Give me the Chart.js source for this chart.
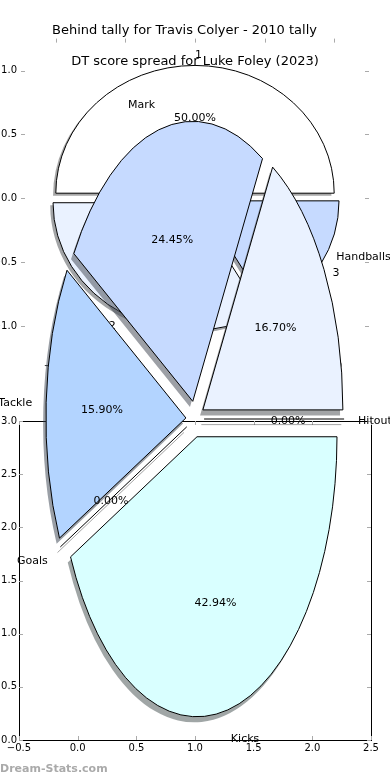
<!DOCTYPE html>
<html>
<head>
<meta charset="utf-8">
<script src="https://cdn.jsdelivr.net/npm/chart.js@4.4.1/dist/chart.umd.min.js"></script>
<style>
  html, body { margin: 0; padding: 0; background: #fff; }
  #wrap { position: relative; width: 390px; height: 780px; overflow: hidden; }
  #wrap canvas { position: absolute; left: 0; top: 0; }
  #credit { position: absolute; left: 0; top: 762px; line-height: 16px; font: bold 11px "DejaVu Sans"; color: #aaa; }
</style>
</head>
<body>
<div id="wrap">
  <canvas id="topAxes" width="390" height="780"></canvas>
  <canvas id="topPie" width="390" height="780"></canvas>
  <canvas id="bottomAxes" width="390" height="780"></canvas>
  <canvas id="bottomPie" width="390" height="780"></canvas>
  <div id="credit">Dream-Stats.com</div>
</div>
<script>
var TOP_TITLE = 'Behind tally for Travis Colyer - 2010 tally';
var TOP_LABELS = ['1', '2', '3'];
var TOP_VALUES = [3, 2, 1];
var TOP_TICKS = [-1.0, -0.5, 0.0, 0.5, 1.0];

var BOTTOM_TITLE = 'DT score spread for Luke Foley (2023)';
var BOTTOM_LABELS = ['Kicks', 'Goals', 'Tackle', 'Mark', 'Handballs', 'Hitout'];
var BOTTOM_VALUES = [216, 0, 80, 123, 84, 0];
var BOTTOM_X_TICKS = [-0.5, 0.0, 0.5, 1.0, 1.5, 2.0, 2.5];
var BOTTOM_Y_TICKS = [0.0, 0.5, 1.0, 1.5, 2.0, 2.5, 3.0];

var TOP_COLORS = ['#ffffff', '#eaf2ff', '#c6daff'];
var BOTTOM_COLORS = ['#d9ffff', '#ffffff', '#b3d4ff', '#c6daff', '#eaf2ff', '#ffffff'];

var W = 390, H = 780;
var FONT = 'DejaVu Sans';

function fmtTick(v) { return Number(v).toFixed(1).replace('-', '\u2212'); }

// inward tick marks on all four sides, optional black frame
var axisDecor = {
  id: 'axisDecor',
  afterDraw: function (chart, args, o) {
    var ctx = chart.ctx, a = chart.chartArea, xs = chart.scales.x, ys = chart.scales.y;
    ctx.save();
    if (o.frame) {
      ctx.lineWidth = 1;
      ctx.strokeStyle = '#000';
      ctx.strokeRect(Math.round(a.left) + 0.5, Math.round(a.top) + 0.5,
        Math.round(a.right - a.left), Math.round(a.bottom - a.top));
    }
    ctx.lineWidth = 1;
    ctx.strokeStyle = '#aaa';
    ctx.beginPath();
    xs.ticks.forEach(function (t) {
      var p = Math.round(xs.getPixelForValue(t.value)) + 0.5;
      ctx.moveTo(p, a.top); ctx.lineTo(p, a.top + 4);
      ctx.moveTo(p, a.bottom); ctx.lineTo(p, a.bottom - 4);
    });
    ys.ticks.forEach(function (t) {
      var p = Math.round(ys.getPixelForValue(t.value)) + 0.5;
      ctx.moveTo(a.left, p); ctx.lineTo(a.left + 4, p);
      ctx.moveTo(a.right, p); ctx.lineTo(a.right - 4, p);
    });
    ctx.stroke();
    ctx.restore();
  }
};

function makeAxes(id, cfg) {
  return new Chart(document.getElementById(id), {
    type: 'scatter',
    data: { datasets: [] },
    options: {
      responsive: false, animation: false, devicePixelRatio: 1, events: [],
      layout: { padding: cfg.padding },
      plugins: {
        legend: { display: false },
        tooltip: { enabled: false },
        title: cfg.title || { display: false },
        axisDecor: { frame: cfg.frame }
      },
      scales: {
        x: {
          type: 'linear', min: cfg.xMin, max: cfg.xMax,
          afterBuildTicks: function (s) { s.ticks = cfg.xTicks.map(function (v) { return { value: v }; }); },
          afterFit: function (s) { s.height = cfg.xSize; },
          grid: { display: false, drawTicks: false, tickLength: 0 }, border: { display: false },
          ticks: { color: '#000', padding: 2, maxRotation: 0, autoSkip: false,
            font: { family: FONT, size: 10 }, callback: fmtTick }
        },
        y: {
          type: 'linear', min: cfg.yMin, max: cfg.yMax,
          afterBuildTicks: function (s) { s.ticks = cfg.yTicks.map(function (v) { return { value: v }; }); },
          afterFit: function (s) { s.width = cfg.ySize; },
          grid: { display: false, drawTicks: false, tickLength: 0 }, border: { display: false },
          ticks: { color: '#000', padding: cfg.yPad, autoSkip: false,
            font: { family: FONT, size: 10 }, callback: fmtTick }
        }
      }
    },
    plugins: [axisDecor]
  });
}

function shade(hex) {
  var n = parseInt(hex.slice(1), 16);
  return 'rgba(' + Math.round(0.3 * (n >> 16)) + ',' + Math.round(0.3 * ((n >> 8) & 255)) + ',' +
    Math.round(0.3 * (n & 255)) + ',0.5)';
}

// zero-sized wedge: just the radius line
function spoke(ctx, el, R, colour, base) {
  ctx.beginPath();
  ctx.moveTo(el.x, el.y);
  ctx.lineTo(el.x + R * Math.cos(el.startAngle), el.y + R * Math.sin(el.startAngle));
  ctx.save();
  ctx.setTransform(base);
  ctx.strokeStyle = colour;
  ctx.lineWidth = 1;
  ctx.stroke();
  ctx.restore();
}

// squashes the pie into an ellipse, explodes wedges, adds shadows and labels
var ellipsePie = {
  id: 'ellipsePie',
  beforeDatasetsDraw: function (chart, args, o) {
    var ctx = chart.ctx;
    var arcs = chart.getDatasetMeta(0).data;
    var cx = arcs[0].x, cy = arcs[0].y, R = arcs[0].outerRadius;
    var base = ctx.getTransform();
    var squash = function () { ctx.translate(cx, cy); ctx.scale(1, o.sy); ctx.translate(-cx, -cy); };
    chart.$ell = { cx: cx, cy: cy, R: R, base: base };
    arcs.forEach(function (el) {
      var mid = (el.startAngle + el.endAngle) / 2;
      el.x = cx + o.explode * R * Math.cos(mid);
      el.y = cy + o.explode * R * Math.sin(mid);
    });
    arcs.forEach(function (el) {
      var col = shade(el.options.backgroundColor);
      ctx.save();
      ctx.translate(-o.shadow * R, o.shadow * R * Math.abs(o.sy));
      squash();
      if (el.circumference > 0) {
        var keep = el.options;
        el.options = Object.assign({}, keep, { backgroundColor: col, borderWidth: 0 });
        el.draw(ctx);
        el.options = keep;
      } else {
        spoke(ctx, el, R, col, base);
      }
      ctx.restore();
    });
    ctx.save();
    squash();
    ctx.stroke = function () {
      this.save();
      this.setTransform(base);
      CanvasRenderingContext2D.prototype.stroke.apply(this, arguments);
      this.restore();
    };
  },
  afterDatasetsDraw: function (chart, args, o) {
    var ctx = chart.ctx, e = chart.$ell;
    var arcs = chart.getDatasetMeta(0).data;
    var values = chart.data.datasets[0].data;
    delete ctx.stroke;
    arcs.forEach(function (el) { if (el.circumference === 0) spoke(ctx, el, e.R, '#000', e.base); });
    ctx.restore();
    var total = values.reduce(function (s, v) { return s + v; }, 0);
    ctx.save();
    ctx.font = '11px "' + FONT + '"';
    ctx.fillStyle = '#000';
    ctx.textBaseline = 'middle';
    arcs.forEach(function (el, i) {
      var mid = (el.startAngle + el.endAngle) / 2;
      var c = Math.cos(mid), s = Math.sin(mid) * o.sy;
      var d = o.labelDist + o.explode;
      ctx.textAlign = c > 0 ? 'left' : 'right';
      ctx.fillText(chart.data.labels[i], e.cx + d * e.R * c, e.cy + d * e.R * s + 2);
      d = o.pctDist + o.explode;
      ctx.textAlign = 'center';
      ctx.fillText((100 * values[i] / total).toFixed(2) + '%', e.cx + d * e.R * c, e.cy + d * e.R * s + 2);
      el.x = e.cx;
      el.y = e.cy;
    });
    ctx.restore();
  }
};

function makePie(id, cfg) {
  return new Chart(document.getElementById(id), {
    type: 'pie',
    data: {
      labels: cfg.labels,
      datasets: [{ data: cfg.values, backgroundColor: cfg.colors, borderColor: '#000', borderWidth: 1, clip: false }]
    },
    options: {
      responsive: false, animation: false, devicePixelRatio: 1, events: [],
      rotation: 90, radius: cfg.r,
      layout: { padding: cfg.padding },
      plugins: {
        legend: { display: false },
        tooltip: { enabled: false },
        title: cfg.title || { display: false },
        ellipsePie: { sy: cfg.sy, explode: cfg.explode, shadow: 0.02, labelDist: 1.1, pctDist: 0.6 }
      }
    },
    plugins: [ellipsePie]
  });
}

function titleOf(text, top, bottom) {
  return { display: true, text: text, color: '#000',
    font: { family: FONT, size: 13, weight: 'normal' }, padding: { top: top, bottom: bottom } };
}

var topAxes = makeAxes('topAxes', {
  xMin: -1.25, xMax: 1.25, yMin: -1.25, yMax: 1.25,
  xTicks: TOP_TICKS, yTicks: TOP_TICKS,
  padding: { top: 0, left: 0, right: 21, bottom: 0 },
  xSize: 422, ySize: 21, yPad: 4, frame: false,
  title: titleOf(TOP_TITLE, 23, 0)
});

// the first pie sits on the first axes: unit circle in its data space
var tx = topAxes.scales.x, ty = topAxes.scales.y;
var tcx = tx.getPixelForValue(0), tcy = ty.getPixelForValue(0);
var trx = tx.getPixelForValue(1) - tcx, tryy = tcy - ty.getPixelForValue(1);

makePie('topPie', {
  labels: TOP_LABELS, values: TOP_VALUES, colors: TOP_COLORS,
  r: trx, sy: -tryy / trx, explode: 0.04,
  padding: { top: 0, left: 0, right: W - 2 * tcx, bottom: H - 2 * tcy }
});

makeAxes('bottomAxes', {
  xMin: -0.5, xMax: 2.5, yMin: 0, yMax: 3,
  xTicks: BOTTOM_X_TICKS, yTicks: BOTTOM_Y_TICKS,
  padding: { top: 421, left: 0, right: 19, bottom: 0 },
  xSize: 40, ySize: 19, yPad: 2, frame: true
});

makePie('bottomPie', {
  labels: BOTTOM_LABELS, values: BOTTOM_VALUES, colors: BOTTOM_COLORS,
  r: 140, sy: 2, explode: 0.065,
  padding: { top: 0, left: 0, right: 0, bottom: H - (2 * 419 - 69.3) },
  title: titleOf(BOTTOM_TITLE, 53.7, 0)
});
</script>
</body>
</html>
